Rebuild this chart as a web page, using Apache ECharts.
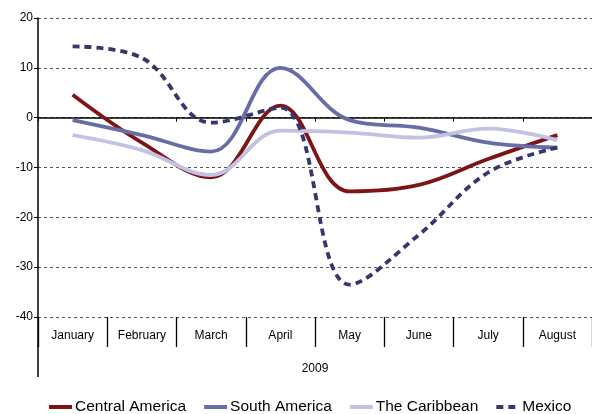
<!DOCTYPE html>
<html>
<head>
<meta charset="utf-8">
<script src="https://cdn.jsdelivr.net/npm/echarts@6/dist/echarts.min.js"></script>
<style>
    html, body { margin: 0; padding: 0; background: #fff; }
    #chart { width: 592px; height: 414px; }
</style>
</head>
<body>
<div id="chart"></div>
<script>
var months = ["January", "February", "March", "April", "May", "June", "July", "August"];
var yearLabel = "2009";
var centralAmerica = [4.6, -5, -12, 2.4, -14.8, -13.5, -8.3, -3.5];
var southAmerica = [-0.5, -3.5, -6.8, 10, -0.5, -2, -5, -6];
var caribbean = [-3.5, -6.5, -11.5, -2.6, -3, -4, -2.2, -4.5];
var mexico = [14.3, 12, -1, 2, -33.5, -23.5, -11, -6];

var font = "Liberation Sans, Arial, sans-serif";

var myChart = echarts.init(document.getElementById("chart"));

function line(name, data, color, type) {
    return {
        name: name,
        type: "line",
        data: data,
        smooth: 0.38,
        symbol: "none",
        lineStyle: {color: color, width: 3.8, type: type || "solid"},
        itemStyle: {color: color}
    };
}

var option = {
    animation: false,
    grid: {left: 38, right: -2, top: 18, bottom: 97, containLabel: false},
    legend: {
        bottom: -6,
        left: 42,
        width: 560,
        itemWidth: 23,
        itemHeight: 4,
        itemGap: 16,
        itemStyle: {opacity: 0},
        lineStyle: {width: 4},
        textStyle: {fontFamily: font, fontSize: 15.5, color: "#000", padding: [0, 0, 0, -2]},
        data: ["Central America", "South America", "The Caribbean", "Mexico"]
    },
    xAxis: [
        {
            type: "category",
            data: months,
            boundaryGap: true,
            axisLine: {onZero: true, lineStyle: {color: "#000", width: 1.5}},
            axisTick: {show: true, inside: false, length: 4, interval: 0, lineStyle: {color: "#000"}},
            axisLabel: {show: false},
            splitLine: {show: false}
        },
        {
            type: "category",
            data: months,
            position: "bottom",
            boundaryGap: true,
            axisLine: {show: false, onZero: false},
            axisTick: {show: true, length: 30, interval: 0, lineStyle: {color: "#000", width: 1.3}},
            axisLabel: {interval: 0, margin: 13, fontFamily: font, fontSize: 12, color: "#000"},
            name: yearLabel,
            nameLocation: "middle",
            nameGap: 46,
            nameTextStyle: {fontFamily: font, fontSize: 12, color: "#000"}
        }
    ],
    yAxis: {
        type: "value",
        min: -40,
        max: 20,
        interval: 10,
        axisLine: {show: true, lineStyle: {color: "#000", width: 1.5}},
        axisTick: {show: true, length: 4, lineStyle: {color: "#000"}},
        axisLabel: {fontFamily: font, fontSize: 12, color: "#000", margin: 5},
        splitLine: {lineStyle: {color: "#555", type: [3, 3], width: 1}}
    },
    graphic: [
        {type: "line", shape: {x1: 38, y1: 317, x2: 38, y2: 377}, style: {stroke: "#000", lineWidth: 1.5}}
    ],
    series: [
        line("Central America", centralAmerica, "#7d1416"),
        line("South America", southAmerica, "#686da6"),
        line("The Caribbean", caribbean, "#c3c2e2"),
        line("Mexico", mexico, "#37366f", [7, 5])
    ]
};
myChart.setOption(option);
</script>
</body>
</html>
